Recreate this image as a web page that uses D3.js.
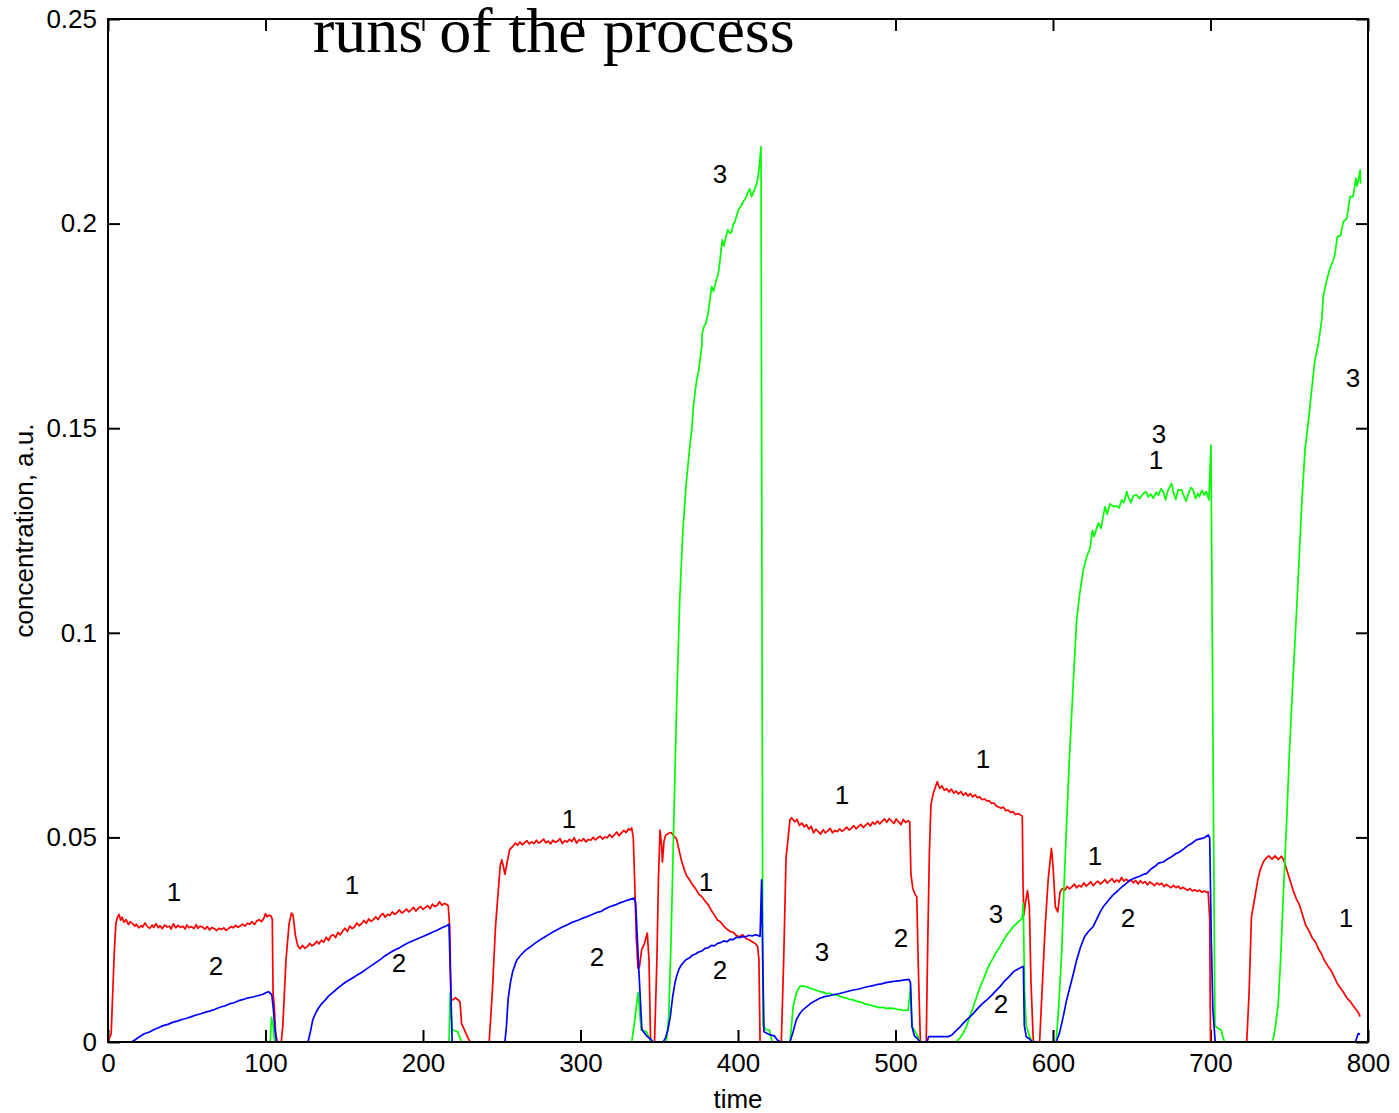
<!DOCTYPE html>
<meta charset="utf-8">
<style>
body { margin: 0; background: #fff; }
.axis .domain { display: none; }
.axis text { font-family: Arial, "Liberation Sans", sans-serif; font-size: 26px; fill: #000; }
.axis line { stroke: #000; stroke-width: 2px; }
</style>
<svg width="1399" height="1113"></svg>
<script src="https://cdn.jsdelivr.net/npm/d3@7"></script>
<script>

// curve 1 (red), [time, concentration]
var red = [
  [0,0],[2,0.002],[4,0.022],[5,0.029],[6,0.0305],[7,0.0312],[8,0.0298],
  [9,0.0305],[10,0.0293],[11.5,0.0299],[13,0.0287],[14,0.0294],[15.5,0.029],[17,0.0283],[18,0.0288],[19.5,0.0279],
  [21,0.0284],[22,0.0281],[23.5,0.0291],[25,0.0282],[26.5,0.0278],[28,0.0286],[29,0.028],[30.5,0.0289],[32,0.0279],
  [33,0.0284],[34.5,0.0277],[36,0.0286],[37.5,0.0281],[39,0.0283],[40,0.0276],[41.5,0.0289],[43,0.0279],[44.5,0.0285],
  [46,0.028],[47.5,0.0283],[49,0.0276],[50,0.0286],[51.5,0.0279],[53,0.0282],[54.5,0.0277],[56,0.0287],[57,0.0278],
  [58.5,0.0283],[60,0.0281],[61.5,0.0276],[63,0.0282],[64.5,0.0274],[66,0.028],[67.5,0.0277],[69,0.0272],[70.5,0.0278],
  [72,0.0275],[73.5,0.0279],[75,0.0273],[76.5,0.0277],[78,0.0282],[79.5,0.0279],[81,0.0285],[82.5,0.028],[84,0.0284],
  [85.5,0.0288],[87,0.0283],[88.5,0.029],[90,0.0288],[91.5,0.0294],[93,0.0287],[94.5,0.0296],[96,0.0299],[97.5,0.0294],
  [99,0.0303],[100,0.0314],[101,0.0306],[102,0.031],[103.5,0.0308],[104.3,0.03],[104.8,0.012],[105.5,0.009],
  [106.5,0.002],[107.5,0],
  [110,0],[111,0.004],[113,0.02],[115,0.029],[116.5,0.0315],[117.5,0.031],[119,0.026],[120.5,0.0235],
  [122,0.0228],[123.5,0.0236],[125,0.0229],[126.5,0.0233],[128,0.0241],[129.5,0.0235],[131,0.0239],[132.5,0.0246],
  [134,0.024],[135.5,0.0249],[137,0.0244],[138.5,0.0256],[140,0.0248],[141.5,0.0259],[143,0.0262],[144.5,0.0255],
  [146,0.0268],[147.5,0.0262],[149,0.0271],[150.5,0.0278],[152,0.027],[153.5,0.0283],[155,0.0277],[156.5,0.0281],
  [158,0.0291],[159.5,0.0284],[161,0.0289],[162.5,0.0297],[164,0.029],[165.5,0.0301],[167,0.0295],[168.5,0.0299],
  [170,0.0306],[171.5,0.0299],[173,0.0309],[174.5,0.0314],[176,0.0305],[177.5,0.0312],[179,0.0309],[180.5,0.0318],
  [182,0.0312],[183.5,0.0316],[185,0.0323],[186.5,0.0315],[188,0.0319],[189.5,0.0325],[191,0.0318],[192.5,0.0323],
  [194,0.0329],[195.5,0.032],[197,0.0327],[198.5,0.0331],[200,0.0324],[201.5,0.0329],[203,0.0333],[204.5,0.0326],
  [206,0.0337],[207.5,0.0331],[209,0.0334],[210.5,0.0343],[212,0.0334],[213.5,0.0339],[215,0.0336],[216,0.0333],
  [217,0.028],[217.8,0.0105],[219,0.0103],[220.5,0.0108],[222,0.0104],[223.5,0.0098],[224.5,0.0045],[226.5,0.0028],
  [228.5,0.001],[230,0],
  [242,0],[244,0.012],[246,0.028],[248,0.038],[249,0.043],[250,0.0445],[251,0.043],[252,0.041],[253.5,0.044],
  [255,0.047],[257,0.0478],[258.5,0.0486],[260,0.0481],[261.5,0.0489],[263,0.0482],[264.5,0.0487],[266,0.0492],
  [267.5,0.0484],[269,0.0489],[270.5,0.0485],[272,0.0493],[273.5,0.0486],[275,0.049],[276.5,0.0496],[278,0.0487],
  [279.5,0.0491],[281,0.0484],[282.5,0.0493],[284,0.0488],[285.5,0.0491],[287,0.0497],[288.5,0.0485],[290,0.0492],
  [291.5,0.0489],[293,0.0495],[294.5,0.049],[296,0.0499],[297.5,0.0486],[299,0.0494],[300.5,0.0491],[302,0.0497],
  [303.5,0.0489],[305,0.0495],[306.5,0.0493],[308,0.05],[309.5,0.0494],[311,0.0499],[312.5,0.0503],[314,0.0496],
  [315.5,0.0501],[317,0.0499],[318.5,0.0507],[320,0.05],[321.5,0.0506],[323,0.0513],[324.5,0.0504],[326,0.0511],
  [327.5,0.0517],[329,0.0512],[330.5,0.0521],[331.5,0.0518],[332.5,0.0523],
  [333.5,0.05],[334.5,0.038],[335.5,0.025],[336.5,0.018],[337.5,0.0185],[338.8,0.0225],[340.5,0.024],
  [342.4,0.0266],[343.5,0.02],[344.5,0],
  [347,0],[348.5,0.02],[349.5,0.04],[350.5,0.0518],[351.5,0.048],[352,0.044],[353,0.049],[354,0.0505],
  [356,0.051],[357.5,0.0512],[359,0.0505],[361,0.0496],[362.5,0.047],[364,0.0445],[366,0.042],[367.5,0.0405],
  [369,0.0398],[371,0.0385],[373,0.0375],[375,0.0362],[377,0.0355],[379,0.0345],[381,0.0336],[383,0.0322],
  [385,0.031],[387,0.0298],[389,0.0293],[391,0.0283],[393,0.0276],[395,0.027],[397,0.0268],[399,0.026],
  [401,0.0257],[403,0.0262],[405,0.0253],[407,0.025],[409,0.0245],[411,0.0241],[412.5,0.0233],[413.3,0.02],
  [414,0],[427.5,0],
  [429,0.02],[430.5,0.045],[431.5,0.0486],[433,0.0543],[434,0.0548],
  [436,0.0538],[437.5,0.0544],[439,0.0529],[440.5,0.0535],[442,0.0526],[443.5,0.0531],[445,0.052],[446.5,0.0527],
  [448,0.0511],[449.5,0.052],[451,0.0514],[452.5,0.0508],[454,0.0519],[455.5,0.0511],[457,0.0516],[458.5,0.0522],
  [460,0.0511],[461.5,0.0517],[463,0.0514],[464.5,0.0521],[466,0.0515],[467.5,0.0519],[469,0.0525],[470.5,0.0518],
  [472,0.0522],[473.5,0.0529],[475,0.0521],[476.5,0.0527],[478,0.0532],[479.5,0.0524],[481,0.053],[482.5,0.0535],
  [484,0.0528],[485.5,0.0537],[487,0.0532],[488.5,0.054],[490,0.0533],[491.5,0.0539],[493,0.0545],[494.5,0.0537],
  [496,0.0546],[497.5,0.054],[499,0.0534],[500.5,0.0545],[502,0.0538],[503.5,0.0531],[505,0.0544],[506.5,0.0536],
  [508,0.0541],[509,0.0538],[509.8,0.041],[511,0.0375],[512.5,0.036],[513.5,0.0355],[514.5,0.018],[515.8,0],
  [519.5,0],[520.5,0.025],[521.5,0.046],[522.5,0.058],[524,0.0608],[526.5,0.0636],
  [528,0.062],[529.5,0.0626],[531,0.0615],[532.5,0.0619],[534,0.0611],[535.5,0.0618],[537,0.0608],[538.5,0.0613],
  [540,0.0606],[541.5,0.0612],[543,0.0603],[544.5,0.0609],[546,0.0601],[547.5,0.0607],[549,0.0599],[550.5,0.0604],
  [552,0.0597],[553.5,0.0599],[555,0.0592],[556.5,0.0594],[558,0.0589],[559.5,0.059],[561,0.0583],[562.5,0.0584],
  [564,0.0577],[565.5,0.0574],[567,0.0571],[568.5,0.0574],[570,0.0565],[571.5,0.0567],[573,0.0561],[574.5,0.0563],
  [576,0.0556],[578,0.0558],[580.5,0.0552],
  [581,0.038],[581.5,0.031],[582.5,0.034],[583.8,0.037],[585,0.033],[586,0.015],[587.5,0],
  [591.5,0],[593,0.012],[595,0.028],[597,0.04],[599,0.0473],[600,0.043],[601.5,0.033],[603,0.0318],
  [604.5,0.0367],[606,0.0375],[607.5,0.0371],[609,0.038],[610.5,0.0374],[612,0.0379],[613.5,0.0386],[615,0.0377],
  [616.5,0.0383],[618,0.0379],[619.5,0.0389],[621,0.0381],[622.5,0.0386],[624,0.0392],[625.5,0.0382],[627,0.0388],
  [628.5,0.0393],[630,0.0386],[631.5,0.0391],[633,0.0397],[634.5,0.0388],[636,0.0394],[637.5,0.0399],[639,0.039],
  [640.5,0.0396],[642,0.0391],[643.5,0.0402],[645,0.0393],[646.5,0.0398],[648,0.0392],[649.5,0.0396],[651,0.0389],
  [652.5,0.0395],[654,0.0386],[655.5,0.0394],[657,0.0388],[658.5,0.0392],[660,0.0384],[661.5,0.0391],[663,0.0387],
  [664.5,0.0382],[666,0.0389],[667.5,0.0384],[669,0.0388],[670.5,0.038],[672,0.0385],[673.5,0.0381],[675,0.0377],
  [676.5,0.0383],[678,0.0377],[679.5,0.0381],[681,0.0374],[682.5,0.0378],[684,0.0374],[685.5,0.0371],[687,0.0375],
  [688.5,0.0369],[690,0.0372],[691.5,0.0368],[693,0.0371],[694.5,0.0366],[696,0.0369],[697.5,0.0366],[698.5,0.0367],
  [699.5,0.03],[700,0],
  [723,0],[724.5,0.012],[726,0.0306],[728,0.035],[730,0.0395],[731.5,0.042],[733.5,0.044],[735.5,0.045],
  [737,0.0455],[739,0.0447],[741,0.0455],[743,0.0446],[745,0.0454],[746.5,0.0445],[748.5,0.042],[750.5,0.0395],
  [752.5,0.037],[754.5,0.035],[756.5,0.0335],[758.5,0.031],[760.5,0.0285],[762.5,0.0272],[764.5,0.0255],
  [766.5,0.0245],[768.5,0.0228],[770.5,0.0215],[772.5,0.0198],[774.5,0.0186],[776.5,0.0175],[778.5,0.016],
  [780.5,0.0143],[782.5,0.0132],[784.5,0.0121],[786.5,0.0108],[788.5,0.01],[790.5,0.0089],[792.5,0.0079],
  [793.5,0.0074],[795,0.0062]
];

// curve 3 (green)
var green = [
  [0,0],[103,0],[103.8,0.006],[104.8,0.004],[105.5,0.001],[106,0],
  [216.5,0],[217.3,0.012],[218.5,0.003],[222,0.0025],[223.5,0.001],[224.5,0],
  [332.5,0],[334,0.004],[336.5,0.012],[337.5,0.008],[338.5,0.003],[342,0.0025],[343.5,0.001],[345,0],
  [354.5,0],[356,0.006],[357.5,0.025],[359,0.05],[361,0.082],[363,0.108],[365,0.125],[367,0.136],[369,0.144],
  [370.6,0.1496],[371.6,0.155],[372.8,0.159],[373.8,0.1618],[375,0.164],[375.9,0.1667],[377,0.17],[377.3,0.1732],
  [378.5,0.175],[379.5,0.1755],[381,0.178],[382,0.181],[383.3,0.1846],[384.5,0.1835],[386,0.186],[387.5,0.1878],
  [388.6,0.1911],[390,0.196],[391,0.1945],[392.5,0.197],[393.5,0.1985],[394.9,0.1976],[396,0.198],[397,0.2],
  [398,0.2004],[400.2,0.2033],[401.5,0.204],[403.4,0.2054],[404.8,0.2062],[406.5,0.2078],[407.5,0.2085],
  [408.6,0.2066],[410.8,0.2086],[412,0.21],[413,0.2123],[413.8,0.215],[414.6,0.2188],[415.8,0.004],
  [418,0.003],[420,0.0029],[421,0.001],[422,0],
  [433,0],[434,0.004],[435,0.0086],[437,0.0119],[439,0.0135],[441,0.0137],[443.6,0.0135],[446,0.0131],
  [448,0.0129],[450,0.0126],[452,0.0123],[454,0.0122],[456,0.0118],[458,0.0119],[460,0.0116],[462.6,0.0115],
  [465,0.0111],[467,0.0109],[469,0.0107],[471,0.0104],[473,0.0103],[475,0.01],[477.5,0.0098],[480,0.0094],
  [482,0.0092],[484,0.009],[486,0.0088],[488,0.0086],[490,0.0084],[492,0.0085],[494,0.0082],[496,0.0083],
  [498.6,0.0082],[501,0.008],[503,0.0079],[505,0.0077],[508,0.0078],[508.8,0.0105],[509.5,0.0135],
  [510.5,0.0037],[512,0.0029],[514,0.0015],[515.6,0],
  [538.5,0],[541,0.001],[543,0.0022],[545,0.0037],[547,0.006],[549.4,0.0086],[551.5,0.011],[553.7,0.0135],
  [556,0.0155],[558,0.0175],[560,0.0192],[562,0.0205],[564,0.022],[566.3,0.0233],[568.5,0.0248],[570.5,0.0262],
  [572.5,0.027],[574.8,0.0282],[577,0.029],[579,0.0297],[580.5,0.0303],[581.1,0.0339],[582,0.0119],[583,0.004],
  [585,0.0015],[587,0],
  [602,0],[603.5,0.008],[605.5,0.0217],[607,0.038],[608.7,0.054],[610.5,0.07],[612.5,0.085],[614,0.096],
  [615,0.103],[617,0.1097],[619.2,0.1153],[621.4,0.1186],[623.5,0.1206],[625,0.1251],[626,0.1235],
  [628.8,0.1268],[630.5,0.1255],[633,0.1308],[634.5,0.129],[636,0.1315],[637.3,0.1312],[639,0.1308],
  [640.4,0.131],[642,0.1305],[643.6,0.1325],[645,0.1318],[646.8,0.1345],[648,0.133],[649.5,0.1318],
  [651,0.1335],[653,0.1337],[655,0.1328],[657.3,0.134],[659,0.1345],[660.5,0.1332],[662,0.1339],[663.7,0.1329],
  [665.5,0.1343],[667,0.1336],[668.5,0.1352],[670,0.1345],[671.5,0.1325],[673,0.1348],[675.3,0.1365],
  [676.5,0.1342],[678,0.1326],[679.5,0.135],[681.7,0.1349],[683,0.1335],[684.5,0.1322],[686,0.134],
  [687.5,0.1355],[689,0.1349],[690.5,0.1328],[692,0.134],[693,0.1333],[694.5,0.1348],[696,0.1337],
  [697.3,0.1345],[699,0.1325],[700.3,0.1459],[702.8,0.004],[704.5,0.0034],[706.7,0.003],[708,0.001],[709,0],
  [738.9,0],[740,0.001],[741.5,0.0045],[743,0.0094],[744.5,0.02],[746,0.0339],[748.4,0.0543],[750,0.07],
  [751.7,0.0836],[753.5,0.097],[755,0.108],[756.5,0.12],[758,0.132],[760,0.1447],[762,0.1512],[764.2,0.1593],
  [766.3,0.1667],[768.5,0.1707],[770.6,0.1764],[771.6,0.1821],[773.8,0.1862],[775.9,0.1891],[778,0.1911],
  [779,0.1925],[780.5,0.1968],[782.5,0.197],[784.3,0.2004],[786.5,0.2012],[788.6,0.2066],[790.5,0.2066],
  [792.4,0.2111],[793,0.2092],[793.8,0.2105],[795,0.2131],[795.3,0.2098]
];

// curve 2 (blue)
var blue = [
  [0,0],[15,0],[17,0.0005],[20,0.0013],[23,0.002],[26,0.0024],[29,0.003],[32,0.0035],[35,0.004],[38,0.0043],
  [41,0.0048],[44,0.0051],[47,0.0055],[50,0.0058],[53,0.0062],[56,0.0066],[59,0.0069],[62,0.0073],[65,0.0076],
  [68,0.008],[71,0.0085],[74,0.0088],[77,0.0093],[80,0.0096],[83,0.0101],[86,0.0104],[89,0.0108],[92,0.011],
  [95,0.0113],[98,0.0116],[100,0.012],[102,0.0123],[103,0.0119],[104,0.0115],[105,0.008],[106,0.003],[107,0],
  [127,0],[128.5,0.0025],[130,0.0054],[132,0.0072],[134,0.0085],[136,0.0095],[138,0.0103],[140,0.0112],
  [143,0.0122],[146,0.0132],[149,0.0141],[152,0.0149],[155,0.0156],[158,0.0163],[161,0.017],[164,0.0178],
  [167,0.0186],[170,0.0194],[173,0.0202],[176,0.0211],[179,0.0218],[182,0.0225],[185,0.023],[188,0.0237],
  [191,0.0243],[194,0.0248],[197,0.0253],[200,0.0258],[203,0.0263],[206,0.0268],[209,0.0273],[212,0.0279],
  [215,0.0284],[216.5,0.0288],[217.5,0.015],[218.5,0],
  [252,0],[253,0.004],[254,0.0103],[255.5,0.0145],[257,0.0173],[259.5,0.02],[262,0.0212],[265,0.0224],
  [268,0.0232],[271,0.0241],[274,0.0249],[277,0.0256],[280,0.0263],[283,0.027],[286,0.0276],[289,0.0282],
  [292,0.0287],[295,0.0293],[298,0.0297],[301,0.0302],[304,0.0306],[307,0.0311],[310,0.0316],[313,0.0319],
  [316,0.0326],[319,0.0331],[322,0.0335],[325,0.034],[328,0.0344],[331,0.0348],[334,0.0352],[335,0.034],
  [337,0.018],[338,0.0103],[339,0.003],[342,0.0015],[345,0.0005],[346,0],
  [352.5,0],[354,0.001],[355.5,0.003],[357,0.0062],[358.5,0.011],[360,0.0145],[361,0.016],[362.5,0.0178],
  [364,0.0188],[365.5,0.0195],[367,0.0201],[369,0.0205],[371,0.0212],[373,0.0215],[375,0.022],[377,0.0222],
  [379,0.0229],[381,0.023],[383,0.0236],[385,0.0235],[387,0.0241],[389,0.0243],[391,0.0247],[393,0.0245],
  [395,0.0251],[397,0.025],[399,0.0256],[401,0.0255],[403,0.0258],[405,0.0257],[407,0.0261],[409,0.0259],
  [411,0.0262],[413,0.026],[414,0.0258],[415,0.0396],[415.8,0.018],[416.5,0.0025],[420,0.0018],[423,0.0015],
  [425,0.0005],[427,0],
  [433,0],[435,0.0025],[437,0.0054],[439,0.0068],[441,0.0078],[443.5,0.0086],[446,0.0094],[449,0.0101],
  [452,0.0107],[455,0.0111],[458,0.0113],[461,0.0116],[464,0.0118],[467,0.0121],[470,0.0124],[473,0.0127],
  [476,0.0129],[479,0.0132],[482,0.0135],[485,0.0137],[488,0.014],[491,0.0142],[494,0.0145],[497,0.0147],
  [500,0.0149],[503,0.015],[506,0.0152],[508.5,0.0153],[509.5,0.0145],[510.5,0.0037],[512,0.0015],
  [514,0.0008],[515.6,0],
  [520,0],[521,0.0013],[533.5,0.0013],[536,0.0018],[538.5,0.0028],[541,0.0037],[543.5,0.0048],[546,0.0057],
  [549.5,0.007],[552,0.0081],[555,0.0093],[558,0.0103],[561,0.0114],[564,0.0126],[566.5,0.0136],[569,0.0148],
  [572,0.0159],[575,0.0172],[577.5,0.0178],[580.5,0.0184],[581.2,0.0184],[581.8,0.004],[583,0.0013],
  [585,0.0008],[587,0],
  [602,0],[604,0.002],[606.5,0.0062],[608.5,0.01],[610.8,0.0135],[613,0.0168],[615,0.02],[617.5,0.0232],
  [620,0.0257],[622.5,0.027],[625.5,0.0282],[628,0.0302],[630,0.0318],[632,0.0331],[635,0.0345],[638,0.0359],
  [641,0.0369],[644,0.038],[646,0.0386],[649,0.0396],[652,0.0401],[655,0.0405],[657,0.0409],[659.5,0.0412],
  [662,0.0422],[665,0.043],[667,0.0437],[670,0.044],[673,0.0448],[675,0.0452],[678,0.046],[680.5,0.0465],
  [683,0.0472],[686,0.0481],[688,0.0485],[691,0.0494],[694,0.0497],[696,0.0499],[698.6,0.0506],[699.5,0.0498],
  [700.5,0.025],[701.5,0.008],[703,0],
  [792,0],[793.8,0.0021],[795,0.0019]
];

// curve number labels placed on the plot
var labels = [
  [41.9,0.0367,"1"],[68.6,0.0186,"2"],[154.9,0.0384,"1"],[184.8,0.0193,"2"],[292.7,0.0545,"1"],
  [310.5,0.0208,"2"],[388.6,0.2121,"3"],[379.7,0.0393,"1"],[388.6,0.0178,"2"],[466,0.0604,"1"],
  [453.3,0.0222,"3"],[503.5,0.0254,"2"],[555.6,0.0692,"1"],[563.8,0.0313,"3"],[567,0.0093,"2"],
  [667.3,0.1486,"3"],[665.4,0.1422,"1"],[626.7,0.0455,"1"],[647.6,0.0303,"2"],[790.5,0.1623,"3"],
  [786,0.0303,"1"]
];

var xTicks = [0, 100, 200, 300, 400, 500, 600, 700, 800];
var yTicks = [0, 0.05, 0.1, 0.15, 0.2, 0.25];

var svg = d3.select("svg"),
    margin = {top: 19, right: 31, bottom: 71, left: 108},
    width = +svg.attr("width") - margin.left - margin.right,
    height = +svg.attr("height") - margin.top - margin.bottom,
    g = svg.append("g").attr("transform", "translate(" + margin.left + "," + margin.top + ")");

var x = d3.scaleLinear().domain([0, 800]).range([0, width]);
var y = d3.scaleLinear().domain([0, 0.25]).range([height, 0]);

// ticks point inward on all four sides
g.append("g")
    .attr("class", "axis")
    .attr("transform", "translate(0," + height + ")")
    .call(d3.axisBottom(x).tickValues(xTicks).tickSizeInner(-12).tickSizeOuter(0).tickPadding(12));

g.append("g")
    .attr("class", "axis")
    .call(d3.axisTop(x).tickValues(xTicks).tickSizeInner(-12).tickSizeOuter(0).tickFormat(""));

g.append("g")
    .attr("class", "axis")
    .call(d3.axisLeft(y).tickValues(yTicks).tickSizeInner(-12).tickSizeOuter(0).tickPadding(11)
      .tickFormat(function(d) { return d3.format("")(+d.toFixed(2)); }));

g.append("g")
    .attr("class", "axis")
    .attr("transform", "translate(" + width + ",0)")
    .call(d3.axisRight(y).tickValues(yTicks).tickSizeInner(-12).tickSizeOuter(0).tickFormat(""));

var line = d3.line()
    .x(function(d) { return x(d[0]); })
    .y(function(d) { return y(d[1]); });

var series = [
  {data: red, color: "#ff0000"},
  {data: green, color: "#00ff00"},
  {data: blue, color: "#0000ff"}
];

g.selectAll("path.curve")
  .data(series)
  .enter().append("path")
    .attr("class", "curve")
    .attr("fill", "none")
    .attr("stroke", function(d) { return d.color; })
    .attr("stroke-width", 1.7)
    .attr("stroke-linejoin", "round")
    .attr("d", function(d) { return line(d.data); });

// frame
g.append("rect")
    .attr("width", width)
    .attr("height", height)
    .attr("fill", "none")
    .attr("stroke", "#000")
    .attr("stroke-width", 2);

g.selectAll("text.lab")
  .data(labels)
  .enter().append("text")
    .attr("class", "lab")
    .attr("x", function(d) { return x(d[0]); })
    .attr("y", function(d) { return y(d[1]); })
    .attr("dy", "0.36em")
    .attr("text-anchor", "middle")
    .attr("font-family", "Arial, 'Liberation Sans', sans-serif")
    .attr("font-size", 26)
    .text(function(d) { return d[2]; });

svg.append("text")
    .attr("x", margin.left + width / 2)
    .attr("y", 1108)
    .attr("text-anchor", "middle")
    .attr("font-family", "Arial, 'Liberation Sans', sans-serif")
    .attr("font-size", 26)
    .text("time");

svg.append("text")
    .attr("transform", "translate(33," + (margin.top + height / 2) + ") rotate(-90)")
    .attr("text-anchor", "middle")
    .attr("font-family", "Arial, 'Liberation Sans', sans-serif")
    .attr("font-size", 26)
    .text("concentration, a.u.");

svg.append("text")
    .attr("x", 313)
    .attr("y", 52)
    .attr("font-family", "'Liberation Serif', 'Times New Roman', serif")
    .attr("font-size", 64)
    .text("runs of the process");

</script>
